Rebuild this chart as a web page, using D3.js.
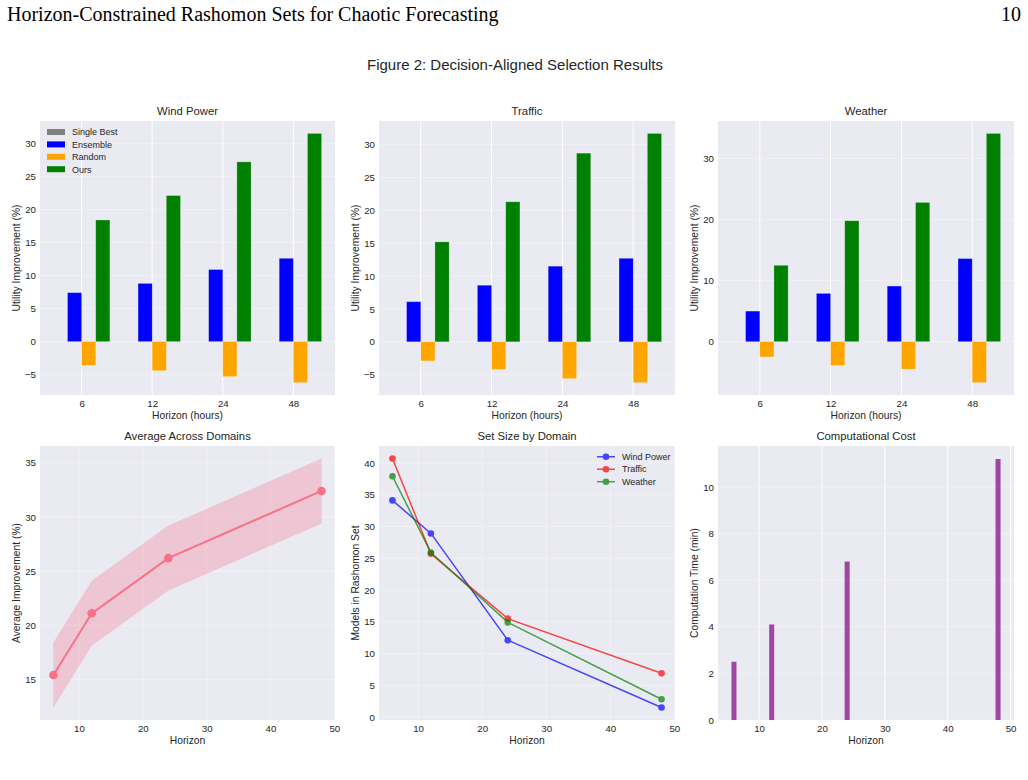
<!DOCTYPE html>
<html>
<head>
  <meta charset="utf-8">
  <title>Decision-Aligned Selection Results</title>
  <script src="https://d3js.org/d3.v7.min.js"></script>
  <style>
    body { margin: 0; background: #fff; }
    text { font-family: "Liberation Sans", Arial, sans-serif; fill: #262626; }
  </style>
</head>
<body>
<div id="chart"></div>
<script>
  // dados
  const horizons = [6, 12, 24, 48];
  const horizonLabels = ['6', '12', '24', '48'];
  const methods = ['Single Best', 'Ensemble', 'Random', 'Ours'];
  const methodColors = ['#808080', '#0000ff', '#ffa500', '#008000'];

  const windSingle = [0, 0, 0, 0];
  const windEnsemble = [7.4, 8.8, 10.9, 12.6];
  const windRandom = [-3.6, -4.4, -5.3, -6.2];
  const windOurs = [18.4, 22.1, 27.2, 31.5];

  const trafficSingle = [0, 0, 0, 0];
  const trafficEnsemble = [6.1, 8.6, 11.5, 12.7];
  const trafficRandom = [-2.9, -4.2, -5.6, -6.2];
  const trafficOurs = [15.2, 21.3, 28.7, 31.7];

  const weatherSingle = [0, 0, 0, 0];
  const weatherEnsemble = [5.0, 7.9, 9.1, 13.6];
  const weatherRandom = [-2.5, -3.9, -4.5, -6.7];
  const weatherOurs = [12.5, 19.8, 22.8, 34.1];

  const avgMean = [15.4, 21.1, 26.2, 32.4];
  const avgLower = [12.4, 18.1, 23.2, 29.4];
  const avgUpper = [18.4, 24.1, 29.2, 35.4];

  const setDomains = ['Wind Power', 'Traffic', 'Weather'];
  const setColors = ['#0000ff', '#ff0000', '#008000'];
  const setWind = [34.1, 28.9, 12.1, 1.5];
  const setTraffic = [40.7, 25.7, 15.5, 6.9];
  const setWeather = [37.9, 25.9, 14.9, 2.8];

  const costMinutes = [2.5, 4.1, 6.8, 11.2];

  // layout
  const W = 1028, H = 780;
  const cols = [[40, 335], [379, 675], [718, 1014]];
  const rows = [[121, 395], [446, 720]];
  const bg = '#eaeaf2';

  const svg = d3.select('#chart').append('svg')
      .attr('width', W).attr('height', H);

  svg.append('text')
     .attr('x', 7).attr('y', 21)
     .style('font-family', '"Liberation Serif", "Times New Roman", serif')
     .style('font-size', '20px').style('fill', '#000')
     .text('Horizon-Constrained Rashomon Sets for Chaotic Forecasting');
  svg.append('text')
     .attr('x', 1021).attr('y', 21).attr('text-anchor', 'end')
     .style('font-family', '"Liberation Serif", "Times New Roman", serif')
     .style('font-size', '20px').style('fill', '#000')
     .text('10');

  svg.append('text')
     .attr('x', 515).attr('y', 70).attr('text-anchor', 'middle')
     .style('font-size', '15px')
     .text('Figure 2: Decision-Aligned Selection Results');

  function pad(lo, hi) {
    const p = (hi - lo) * 0.05;
    return [lo - p, hi + p];
  }

  // moldura de cada painel: fundo, grade, eixos, rótulos
  function panel(col, row, o) {
    const [x0, x1] = cols[col], [y0, y1] = rows[row];
    const g = svg.append('g');
    const x = d3.scaleLinear().domain(o.xDomain).range([x0, x1]);
    const y = d3.scaleLinear().domain(o.yDomain).range([y1, y0]);

    g.append('rect').attr('x', x0).attr('y', y0)
     .attr('width', x1 - x0).attr('height', y1 - y0).attr('fill', bg);

    g.selectAll('.vg').data(o.xTicks).enter().append('line')
     .attr('x1', d => x(d)).attr('x2', d => x(d))
     .attr('y1', y0).attr('y2', y1)
     .attr('stroke', '#fff').attr('stroke-width', 1)
     .attr('stroke-opacity', o.vGridAlpha);
    g.selectAll('.hg').data(o.yTicks).enter().append('line')
     .attr('x1', x0).attr('x2', x1)
     .attr('y1', d => y(d)).attr('y2', d => y(d))
     .attr('stroke', '#fff').attr('stroke-width', 1)
     .attr('stroke-opacity', 0.35);

    const xAxis = d3.axisBottom(x).tickValues(o.xTicks).tickSize(0).tickPadding(5)
        .tickFormat(o.xFormat || d3.format('d'));
    const yAxis = d3.axisLeft(y).tickValues(o.yTicks).tickSize(0).tickPadding(4)
        .tickFormat(d3.format('d'));

    const gx = g.append('g').attr('transform', `translate(0,${y1})`).call(xAxis);
    const gy = g.append('g').attr('transform', `translate(${x0},0)`).call(yAxis);
    [gx, gy].forEach(a => {
      a.select('.domain').remove();
      a.selectAll('text').style('font-size', '9.7px').attr('fill', '#262626');
    });
    gy.selectAll('text').text(d => d < 0 ? '\u2212' + Math.abs(d) : d);

    g.append('text')
     .attr('x', (x0 + x1) / 2).attr('y', y0 - 6)
     .attr('text-anchor', 'middle').style('font-size', '11.3px')
     .text(o.title);
    g.append('text')
     .attr('x', (x0 + x1) / 2).attr('y', y1 + 24)
     .attr('text-anchor', 'middle').style('font-size', '10.3px')
     .text(o.xLabel);
    g.append('text')
     .attr('transform', `translate(${x0 - 20},${(y0 + y1) / 2}) rotate(-90)`)
     .attr('text-anchor', 'middle').style('font-size', '10.3px')
     .text(o.yLabel);

    return {g, x, y};
  }

  function barPanel(col, title, series, yStep) {
    const all = series.flat();
    const yDomain = pad(Math.min(0, d3.min(all)), d3.max(all));
    const yTicks = d3.range(Math.ceil(yDomain[0] / yStep) * yStep, yDomain[1], yStep);
    const idx = horizons.map((h, i) => i);
    const {g, x, y} = panel(col, 0, {
      title, xLabel: 'Horizon (hours)', yLabel: 'Utility Improvement (%)',
      xDomain: pad(-0.4, idx.length - 1 + 0.4), yDomain,
      xTicks: idx, yTicks, vGridAlpha: 1,
      xFormat: i => horizonLabels[i]
    });
    const bw = 0.2;
    series.forEach((vals, m) => {
      const off = (m - 1.5) * bw;
      g.selectAll(null).data(vals).enter().append('rect')
       .attr('x', (d, i) => x(i + off - bw / 2))
       .attr('width', x(bw) - x(0))
       .attr('y', d => y(Math.max(0, d)))
       .attr('height', d => Math.abs(y(d) - y(0)))
       .attr('fill', methodColors[m])
       .attr('stroke', 'rgba(255,255,255,0.25)').attr('stroke-width', 0.8);
    });
    return g;
  }

  const g1 = barPanel(0, 'Wind Power', [windSingle, windEnsemble, windRandom, windOurs], 5);
  barPanel(1, 'Traffic', [trafficSingle, trafficEnsemble, trafficRandom, trafficOurs], 5);
  barPanel(2, 'Weather', [weatherSingle, weatherEnsemble, weatherRandom, weatherOurs], 10);

  // legenda do primeiro painel
  const leg1 = g1.append('g').attr('transform', `translate(47,132)`);
  methods.forEach((m, i) => {
    leg1.append('rect').attr('x', 0).attr('y', i * 12.4 - 3)
        .attr('width', 18).attr('height', 6).attr('fill', methodColors[i]);
    leg1.append('text').attr('x', 25).attr('y', i * 12.4 + 3.3)
        .style('font-size', '9px').text(m);
  });

  // média entre domínios
  const lineX = pad(d3.min(horizons), d3.max(horizons));
  const avgAll = avgLower.concat(avgUpper);
  const p4 = panel(0, 1, {
    title: 'Average Across Domains', xLabel: 'Horizon', yLabel: 'Average Improvement (%)',
    xDomain: lineX, yDomain: pad(d3.min(avgAll), d3.max(avgAll)),
    xTicks: [10, 20, 30, 40, 50], yTicks: [15, 20, 25, 30, 35], vGridAlpha: 0.35
  });
  const pink = '#f77189';
  p4.g.append('path')
     .datum(horizons)
     .attr('d', d3.area().x(d => p4.x(d))
        .y0((d, i) => p4.y(avgLower[i])).y1((d, i) => p4.y(avgUpper[i])))
     .attr('fill', pink).attr('fill-opacity', 0.3);
  p4.g.append('path')
     .datum(horizons)
     .attr('d', d3.line().x(d => p4.x(d)).y((d, i) => p4.y(avgMean[i])))
     .attr('fill', 'none').attr('stroke', pink).attr('stroke-width', 2);
  p4.g.selectAll(null).data(horizons).enter().append('circle')
     .attr('cx', d => p4.x(d)).attr('cy', (d, i) => p4.y(avgMean[i]))
     .attr('r', 4.3).attr('fill', pink);

  // tamanho do conjunto
  const setSeries = [setWind, setTraffic, setWeather];
  const setAll = setSeries.flat();
  const p5 = panel(1, 1, {
    title: 'Set Size by Domain', xLabel: 'Horizon', yLabel: 'Models in Rashomon Set',
    xDomain: lineX, yDomain: pad(d3.min(setAll), d3.max(setAll)),
    xTicks: [10, 20, 30, 40, 50], yTicks: [0, 5, 10, 15, 20, 25, 30, 35, 40], vGridAlpha: 0.35
  });
  setSeries.forEach((vals, s) => {
    const gs = p5.g.append('g').attr('opacity', 0.7);
    gs.append('path').datum(vals)
      .attr('d', d3.line().x((d, i) => p5.x(horizons[i])).y(d => p5.y(d)))
      .attr('fill', 'none').attr('stroke', setColors[s]).attr('stroke-width', 1.5);
    gs.selectAll(null).data(vals).enter().append('circle')
      .attr('cx', (d, i) => p5.x(horizons[i])).attr('cy', d => p5.y(d))
      .attr('r', 3.3).attr('fill', setColors[s]);
  });
  const leg5 = p5.g.append('g').attr('transform', 'translate(597,456.7)');
  setDomains.forEach((name, i) => {
    const row = leg5.append('g').attr('transform', `translate(0,${i * 12.5})`).attr('opacity', 0.7);
    row.append('line').attr('x1', 0).attr('x2', 18).attr('y1', 0).attr('y2', 0)
       .attr('stroke', setColors[i]).attr('stroke-width', 1.5);
    row.append('circle').attr('cx', 9).attr('cy', 0).attr('r', 3.3).attr('fill', setColors[i]);
    leg5.append('text').attr('x', 25).attr('y', i * 12.5 + 3.2)
        .style('font-size', '9px').text(name);
  });

  // custo computacional
  const cw = 0.8;
  const p6 = panel(2, 1, {
    title: 'Computational Cost', xLabel: 'Horizon', yLabel: 'Computation Time (min)',
    xDomain: pad(d3.min(horizons) - cw / 2, d3.max(horizons) + cw / 2),
    yDomain: [0, d3.max(costMinutes) * 1.05],
    xTicks: [10, 20, 30, 40, 50], yTicks: [0, 2, 4, 6, 8, 10], vGridAlpha: 1
  });
  p6.g.selectAll(null).data(costMinutes).enter().append('rect')
     .attr('x', (d, i) => p6.x(horizons[i] - cw / 2))
     .attr('width', p6.x(cw) - p6.x(0))
     .attr('y', d => p6.y(d))
     .attr('height', d => p6.y(0) - p6.y(d))
     .attr('fill', '#800080').attr('fill-opacity', 0.7);
</script>
</body>
</html>
